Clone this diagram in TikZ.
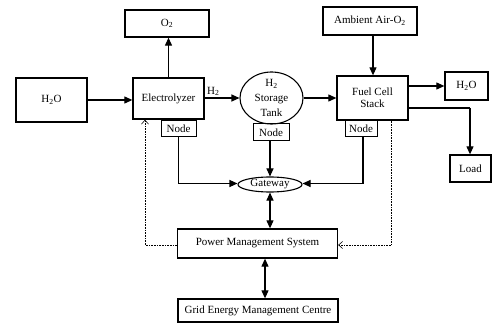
\documentclass[tikz,border=0pt]{standalone}
\usepackage{fontspec}
\setmainfont{Liberation Serif}
\usetikzlibrary{arrows.meta,shapes.geometric}
\begin{document}
\begin{tikzpicture}[x=1pt,y=-1pt,
  box/.style={draw,line width=1.3pt,inner sep=0pt,font=\fontsize{11}{12}\selectfont,align=center},
  oval/.style={draw,line width=1.1pt,ellipse,inner sep=0pt,font=\fontsize{11}{11}\selectfont,align=center},
  flow/.style={line width=1.1pt,-{Triangle[length=8pt,width=7pt]}},
  dflow/.style={line width=1.1pt,{Triangle[length=8pt,width=7pt]}-{Triangle[length=8pt,width=7pt]}},
  ctrl/.style={line width=0.6pt,densely dotted,-{Straight Barb[length=4pt,width=7pt]}}]
\useasboundingbox (0,0) rectangle (492,323);
\node[box,minimum width=84pt,minimum height=27pt] (o2) at (167,23.5) {O\textsubscript{2}};
\node[box,minimum width=71pt,minimum height=44pt] (h2oL) at (51.5,100) {H\textsubscript{2}O};
\node[box,minimum width=71pt,minimum height=41pt] (elec) at (168.5,98.5) {Electrolyzer};
\node[box,line width=1pt,minimum width=35pt,minimum height=16pt] (enode) at (178.5,129) {Node};
\node[oval,minimum width=63pt,minimum height=52pt] (tank) at (271.5,98) {};
\node[font=\fontsize{11}{15}\selectfont,align=center,inner sep=0pt] (tanktxt) at (271.5,98) {H\textsubscript{2}\\Storage\\Tank};
\node[box,line width=1pt,minimum width=36pt,minimum height=17pt] (tnode) at (271,132.5) {Node};
\node[box,minimum width=71pt,minimum height=44pt] (fc) at (372.5,98) {Fuel Cell\\Stack};
\node[box,line width=1pt,minimum width=32pt,minimum height=16pt] (fnode) at (361,129) {Node};
\node[box,minimum width=94pt,minimum height=28pt] (air) at (370,21) {Ambient Air-O\textsubscript{2}};
\node[box,minimum width=43pt,minimum height=28pt] (h2oR) at (466.5,86) {H\textsubscript{2}O};
\node[box,minimum width=41pt,minimum height=27pt] (load) at (470.5,168.5) {Load};
\node[oval,minimum width=64pt,minimum height=15pt] (gw) at (270,184.5) {Gateway};
\node[box,minimum width=160pt,minimum height=29pt] (pms) at (257.5,243.5) {Power Management System};
\node[box,minimum width=160pt,minimum height=23pt] (grid) at (258,310.5) {Grid Energy Management Centre};
\coordinate (eline) at (178.5,183.5);
\coordinate (fline) at (363,183.5);
\coordinate (lcorner) at (470,108);
\coordinate (dl) at (145,245);
\coordinate (dr) at (391,245);
% flows
\draw[flow] (h2oL.east) -- (h2oL.east -| elec.west);
\draw[flow] (elec.north) -- (elec.north |- o2.south);
\draw[flow] (elec.east |- tank.west) -- node[above,pos=0.25,font=\fontsize{11}{12}\selectfont,inner sep=1.5pt]{H\textsubscript{2}} (tank.west);
\draw[flow] (tank.east) -- (tank.east -| fc.west);
\draw[flow] (air.south -| 373,0) -- (fc.north -| 373,0);
\draw[flow] (fc.east |- h2oR.west) -- (h2oR.west);
\draw[line width=1.1pt] (fc.east |- lcorner) -- (lcorner);
\draw[flow] (lcorner) -- (load.north -| lcorner);
\draw[line width=1.1pt] (enode.south) -- (eline);
\draw[flow] (eline) -- (eline -| gw.west);
\draw[flow] (tnode.south -| gw.north) -- (gw.north);
\draw[line width=1.1pt] (fnode.south -| fline) -- (fline);
\draw[flow] (fline) -- (fline -| gw.east);
\draw[dflow] (gw.south) -- (gw.south |- pms.north);
\draw[dflow] (pms.south -| 265,0) -- (grid.north -| 265,0);
% control
\draw[line width=0.6pt,densely dotted] (pms.west |- dl) -- (dl);
\draw[ctrl] (dl) -- (dl |- elec.south);
\draw[line width=0.6pt,densely dotted] (fc.south -| dr) -- (dr);
\draw[ctrl] (dr) -- (dr -| pms.east);
\end{tikzpicture}
\end{document}
